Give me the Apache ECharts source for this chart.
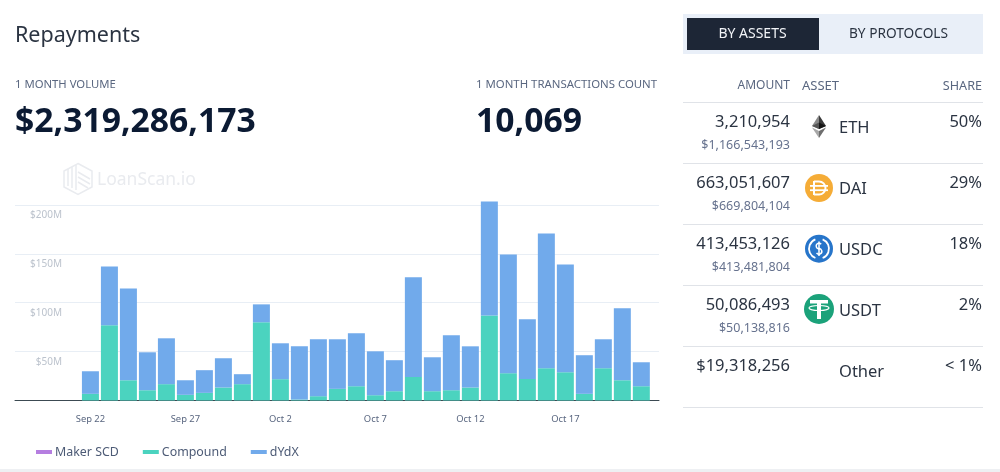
<!DOCTYPE html>
<html><head><meta charset="utf-8">
<script src="https://cdn.jsdelivr.net/npm/echarts@6/dist/echarts.min.js"></script>
<style>html,body{margin:0;padding:0;background:#fff}#c{width:1000px;height:472px}</style>
</head><body><div id="c"></div>
<script>
const days = ['Sep 22','Sep 23','Sep 24','Sep 25','Sep 26','Sep 27','Sep 28','Sep 29','Sep 30','Oct 1','Oct 2','Oct 3','Oct 4','Oct 5','Oct 6','Oct 7','Oct 8','Oct 9','Oct 10','Oct 11','Oct 12','Oct 13','Oct 14','Oct 15','Oct 16','Oct 17','Oct 18','Oct 19','Oct 20','Oct 21'];
const compound = [6.8,77,20.7,10.5,16.7,5.8,7.8,13.3,16.7,80,21.8,1,4.4,11.9,14.6,5.4,9.5,24.1,9.5,10.5,13.3,87,27.9,22.1,33,28.9,6.8,33,20.7,14.6];
const dydx = [23.1,60,93.9,38.8,46.9,14.9,23.2,29.9,10.2,18.3,36.7,54.4,58.2,50.7,54.1,44.9,31.7,101.8,34.7,56.2,42.1,116.4,121.4,60.9,137.7,110.2,39.5,29.6,73.5,24.5];
const makerScd = [];
const labelDays = ['Sep 22','Sep 27','Oct 2','Oct 7','Oct 12','Oct 17'];
const assetAmounts = ['3,210,954','663,051,607','413,453,126','50,086,493','$19,318,256'];
const assetUsd = ['$1,166,543,193','$669,804,104','$413,481,804','$50,138,816',''];
const assetNames = ['ETH','DAI','USDC','USDT','Other'];
const assetShares = ['50%','29%','18%','2%','< 1%'];

const FONT = '"Noto Sans", sans-serif';
const t = (x,y,text,size,fill,extra={}) => ({type:'text',silent:true,x,y,style:{text,font:`${extra.weight||400} ${size}px ${FONT}`,fill,align:extra.align||'left',verticalAlign:'middle'}});
const rect = (x,y,w,h,fill) => ({type:'rect',silent:true,shape:{x,y,width:w,height:h},style:{fill}});
const poly = (pts,fill) => ({type:'polygon',silent:true,shape:{points:pts},style:{fill}});
const circle = (cx,cy,r,fill) => ({type:'circle',silent:true,shape:{cx,cy,r},style:{fill}});
const arc = (cx,cy,r,a,b,w,stroke='#fff') => ({type:'arc',silent:true,shape:{cx,cy,r,startAngle:a,endAngle:b},style:{stroke,fill:'none',lineWidth:w}});
const line = (x1,y1,x2,y2,w,stroke='#fff') => ({type:'line',silent:true,shape:{x1,y1,x2,y2},style:{stroke,lineWidth:w}});
const g = [];

// header
g.push(t(15,35.5,'Repayments',21.5,'#2b3442'));
g.push(t(15,85,'1 MONTH VOLUME',11.3,'#5a6780'));
g.push(t(15,122,'$2,319,286,173',33.7,'#0b1a33',{weight:700}));
g.push(t(476,85,'1 MONTH TRANSACTIONS COUNT',11.4,'#5a6780'));
g.push(t(476,122,'10,069',33.7,'#0b1a33',{weight:700}));

// watermark
const wm = '#e9ebef';
g.push({type:'polygon',silent:true,shape:{points:[[78,163.5],[92,171],[92,187],[78,194.5],[64,187],[64,171]]},style:{fill:'none',stroke:wm,lineWidth:1.5}});
[[68,169,68,186],[72,167,72,188],[76,165,76,190]].forEach(l=>g.push(line(l[0],l[1],l[2],l[3],1.5,wm)));
[[78,172,90,179],[78,177,90,184],[78,182,88,188]].forEach(l=>g.push(line(l[0],l[1],l[2],l[3],1.5,wm)));
g.push(t(97,180,'LoanScan.io',17.5,wm));

// tabs
g.push(rect(683,14,300,40,'#e9eff8'));
g.push(rect(687,18,132,32,'#1d2636'));
g.push(t(752.5,34.5,'BY ASSETS',14,'#f2f4f8',{align:'center'}));
g.push(t(898.5,34.5,'BY PROTOCOLS',13.7,'#2b3442',{align:'center'}));

// table
g.push(t(790,86,'AMOUNT',12,'#5a6780',{align:'right'}));
g.push(t(802,86,'ASSET',13,'#5a6780'));
g.push(t(982,86,'SHARE',12.6,'#5a6780',{align:'right'}));
const lineYs = [102,163,224,285,346,407];
lineYs.forEach(y=>g.push(rect(683,y,300,1,'#e0e3e8')));
assetNames.forEach((n,i)=>{
  const y0 = 102.5 + i*61;
  g.push(t(790,y0+19.3,assetAmounts[i],16.5,'#2b3442',{align:'right'}));
  if(assetUsd[i]) g.push(t(790,y0+43,assetUsd[i],12.5,'#66728e',{align:'right'}));
  g.push(t(839,y0+25.3,n,16.5,'#2b3442'));
  g.push(t(982,y0+19.3,assetShares[i],16.5,'#2b3442',{align:'right'}));
});
// ETH icon
g.push(poly([[819,115],[819,129],[812,126]],'#8a8a8a'));
g.push(poly([[819,115],[826,126],[819,129]],'#3a3a3a'));
g.push(poly([[812,126],[819,122.5],[819,129]],'#555'));
g.push(poly([[826,126],[819,122.5],[819,129]],'#151515'));
g.push(poly([[812,127.5],[819,131],[819,138]],'#a8a8a8'));
g.push(poly([[826,127.5],[819,131],[819,138]],'#6e6e6e'));
// DAI icon
g.push(circle(819,188,14,'#f5ac37'));
g.push(line(814,181,814,195,2));
g.push(line(814,181.5,819,181.5,2));
g.push(line(814,194.5,819,194.5,2));
g.push(arc(819,188,6.5,-Math.PI/2,Math.PI/2,2));
g.push(rect(810,185,18,1.8,'#fff'));
g.push(rect(810,189.3,18,1.8,'#fff'));
// USDC icon
g.push(circle(819,248.7,14,'#2775ca'));
g.push(arc(819,248.7,10,-1.2,1.2,1.8));
g.push(arc(819,248.7,10,1.94,4.34,1.8));
g.push(arc(819,246,2.8,1.2,5.6,1.5));
g.push(arc(819,251.4,2.8,-1.9,2.6,1.5));
g.push(line(819,241.5,819,256,1.5));
// USDT icon
g.push(circle(819,309,15,'#1ba27a'));
g.push(rect(810,300,18,3.5,'#fff'));
g.push(rect(817,300,4,19,'#fff'));
g.push({type:'ellipse',silent:true,shape:{cx:819,cy:308,rx:10,ry:2.5},style:{fill:'none',stroke:'#fff',lineWidth:1.2}});

// bottom strip
g.push(rect(0,469,1000,3,'#eef0f3'));

const chart = echarts.init(document.getElementById('c'));
chart.setOption({
  animation:false,
  textStyle:{fontFamily:FONT},
  grid:{left:15,width:644,top:156,height:244.5},
  legend:{left:31,top:441,itemWidth:16,itemHeight:4,itemGap:24,icon:'rect',selectedMode:false,
    textStyle:{color:'#4d5b76',fontSize:12.4,fontFamily:FONT,padding:[0,0,0,-2]},
    data:['Maker SCD','Compound','dYdX']},
  xAxis:{type:'value',min:-3.97,max:29.93,
    axisLine:{onZero:false,lineStyle:{color:'#3c4a52',width:1}},axisTick:{show:false},splitLine:{show:false},
    axisLabel:{customValues:labelDays.map(d=>days.indexOf(d)),color:'#5a6780',fontSize:9.4,margin:14,hideOverlap:false,fontFamily:FONT,
      formatter:v=>days[v]||''}},
  yAxis:{type:'value',min:0,max:250,interval:50,
    axisLine:{show:false},axisTick:{show:false},
    splitLine:{showMaxLine:false,showMinLine:false,lineStyle:{color:'#e8eef5',width:1}},
    axisLabel:{inside:true,showMinLabel:false,showMaxLabel:false,align:'right',verticalAlign:'top',margin:47,padding:[5.5,0,0,0],color:'#bcc3cd',fontSize:10,fontFamily:FONT,
      formatter:v=>(v===0||v===250)?'':'$'+v+'M'}},
  series:[
    {name:'Maker SCD',type:'bar',barWidth:17,barGap:'-100%',itemStyle:{color:'#b57ee0'},data:makerScd,silent:true},
    {name:'Compound',type:'bar',stack:'a',barWidth:17,barGap:'-100%',encode:{x:1,y:0},itemStyle:{color:'#4bd3bf'},data:days.map((d,i)=>[compound[i],i]),silent:true},
    {name:'dYdX',type:'bar',stack:'a',barWidth:17,barGap:'-100%',encode:{x:1,y:0},itemStyle:{color:'#71aaeb'},data:days.map((d,i)=>[dydx[i],i]),silent:true}
  ],
  graphic:{elements:g}
});
</script></body></html>
